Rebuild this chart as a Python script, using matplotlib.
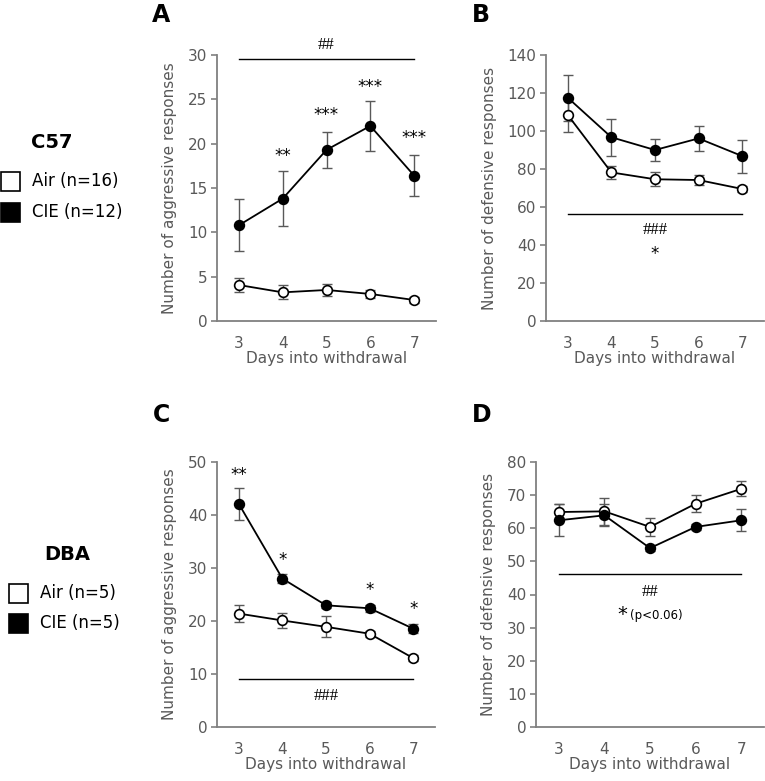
import matplotlib
matplotlib.use("Agg")
import matplotlib.pyplot as plt
from matplotlib.patches import Rectangle

plt.rcParams['font.family'] = ['DejaVu Sans']

W, H = 765, 781
days = [3, 4, 5, 6, 7]

# Panel A (C57 aggressive)
a_air = [4.06, 3.23, 3.5, 3.05, 2.37]
a_air_err = [0.75, 0.8, 0.65, 0.5, 0.3]
a_cie = [10.8, 13.8, 19.3, 22.0, 16.4]
a_cie_err = [2.95, 3.1, 2.0, 2.8, 2.3]

# Panel B (C57 defensive)
b_air = [108.4, 78.2, 74.6, 74.2, 69.5]
b_air_err = [8.8, 3.4, 3.8, 2.5, 1.5]
b_cie = [117.5, 96.7, 90.0, 96.1, 86.8]
b_cie_err = [12.0, 9.7, 5.7, 6.6, 8.7]

# Panel C (DBA aggressive)
c_air = [21.4, 20.1, 18.9, 17.6, 13.0]
c_air_err = [1.6, 1.5, 1.95, 0.6, 0.5]
c_cie = [42.1, 28.0, 22.96, 22.4, 18.55]
c_cie_err = [2.95, 0.8, 0.6, 0.7, 0.9]

# Panel D (DBA defensive)
d_air = [64.9, 65.1, 60.4, 67.4, 71.9]
d_air_err = [2.3, 4.1, 2.6, 2.5, 2.3]
d_cie = [62.4, 63.9, 54.0, 60.4, 62.4]
d_cie_err = [4.8, 3.3, 1.0, 0.8, 3.3]

GRAY_T = '#595959'
GRAY_S = '#808080'

fig = plt.figure(figsize=(W / 100, H / 100), dpi=100)


def add_ax(left, right, top, bottom):
    return fig.add_axes([left / W, 1 - bottom / H, (right - left) / W, (bottom - top) / H])


def style(ax, ymax, ystep, ylabel):
    ax.set_xlim(2.5, 7.5)
    ax.set_ylim(0, ymax)
    ax.set_xticks(days)
    ax.set_yticks(range(0, ymax + 1, ystep))
    for s in ['top', 'right']:
        ax.spines[s].set_visible(False)
    for s in ['left', 'bottom']:
        ax.spines[s].set_color(GRAY_S)
        ax.spines[s].set_linewidth(1.3)
    ax.tick_params(axis='y', direction='out', length=4, width=1.2, color=GRAY_S,
                   labelsize=11, labelcolor=GRAY_T, pad=3)
    ax.tick_params(axis='x', length=0, labelsize=11, labelcolor=GRAY_T, pad=11)
    ax.set_xlabel('Days into withdrawal', fontsize=11, color=GRAY_T, labelpad=0)
    ax.set_ylabel(ylabel, fontsize=11, color=GRAY_T, labelpad=7.5)


def series(ax, air, air_err, cie, cie_err):
    for vals, errs, fc in [(air, air_err, 'white'), (cie, cie_err, 'black')]:
        ax.errorbar(days, vals, yerr=errs, fmt='none', ecolor=GRAY_T, elinewidth=1.0,
                    capsize=3.5, capthick=1.0, zorder=2)
        ax.plot(days, vals, '-', color='black', lw=1.3, zorder=3)
        ax.plot(days, vals, 'o', ms=7, mfc=fc, mec='black', mew=1.2, zorder=4, clip_on=False)


axA = add_ax(217, 436, 55, 321)
axB = add_ax(546, 764, 55, 321)
axC = add_ax(217, 435, 462, 727)
axD = add_ax(536, 764, 462, 727)

style(axA, 30, 5, 'Number of aggressive responses')
style(axB, 140, 20, 'Number of defensive responses')
style(axC, 50, 10, 'Number of aggressive responses')
style(axD, 80, 10, 'Number of defensive responses')

series(axA, a_air, a_air_err, a_cie, a_cie_err)
series(axB, b_air, b_air_err, b_cie, b_cie_err)
series(axC, c_air, c_air_err, c_cie, c_cie_err)
series(axD, d_air, d_air_err, d_cie, d_cie_err)

STAR = dict(ha='center', va='center', fontsize=12, color='black')
HASH = dict(ha='center', va='center', fontsize=12, color='black', family='Liberation Serif')

# Panel A annotations
axA.plot([3, 7], [29.5, 29.5], color='black', lw=1.0, clip_on=False)
axA.text(5, 31.1, '##', clip_on=False, **HASH)
for d, y, s in [(4, 18.6, '**'), (5, 23.2, '***'), (6, 26.4, '***'), (7, 20.6, '***')]:
    axA.text(d, y, s, **STAR)

# Panel B annotations
axB.plot([3, 7], [56.5, 56.5], color='black', lw=1.0)
axB.text(5, 47.9, '###', **HASH)
axB.text(5, 35.5, '*', **STAR)

# Panel C annotations
axC.plot([3, 7], [9.0, 9.0], color='black', lw=1.0)
axC.text(5, 5.8, '###', **HASH)
for d, y, s in [(3, 47.6, '**'), (4, 31.6, '*'), (6, 25.9, '*'), (7, 22.2, '*')]:
    axC.text(d, y, s, **STAR)

# Panel D annotations
axD.plot([3, 7], [46.2, 46.2], color='black', lw=1.0)
axD.text(5, 40.75, '##', **HASH)
axD.text(4.39, 34.0, '*', ha='center', va='center', fontsize=14, color='black')
axD.text(5.14, 33.7, '(p<0.06)', ha='center', va='center', fontsize=8.5, color='black')

# Panel letters
for x, y, s in [(161, 15, 'A'), (481, 15, 'B'), (161, 415, 'C'), (482, 415, 'D')]:
    fig.text(x / W, 1 - y / H, s, ha='center', va='center', fontsize=17, fontweight='bold')

# Group legends
def legend_block(title, tx, ty, sq_x, rows):
    fig.text(tx / W, 1 - ty / H, title, ha='center', va='center', fontsize=14, fontweight='bold')
    for label, cy, fc in rows:
        fig.patches.append(Rectangle((sq_x / W, 1 - (cy + 9.5) / H), 19 / W, 19 / H,
                                     transform=fig.transFigure, facecolor=fc,
                                     edgecolor='black', lw=1.2))
        fig.text((sq_x + 31) / W, 1 - cy / H, label, ha='left', va='center', fontsize=12)


legend_block('C57', 52, 143, 1, [('Air (n=16)', 181, 'white'), ('CIE (n=12)', 212, 'black')])
legend_block('DBA', 67, 555, 9, [('Air (n=5)', 593, 'white'), ('CIE (n=5)', 623, 'black')])

fig.savefig('out.png', dpi=100)
